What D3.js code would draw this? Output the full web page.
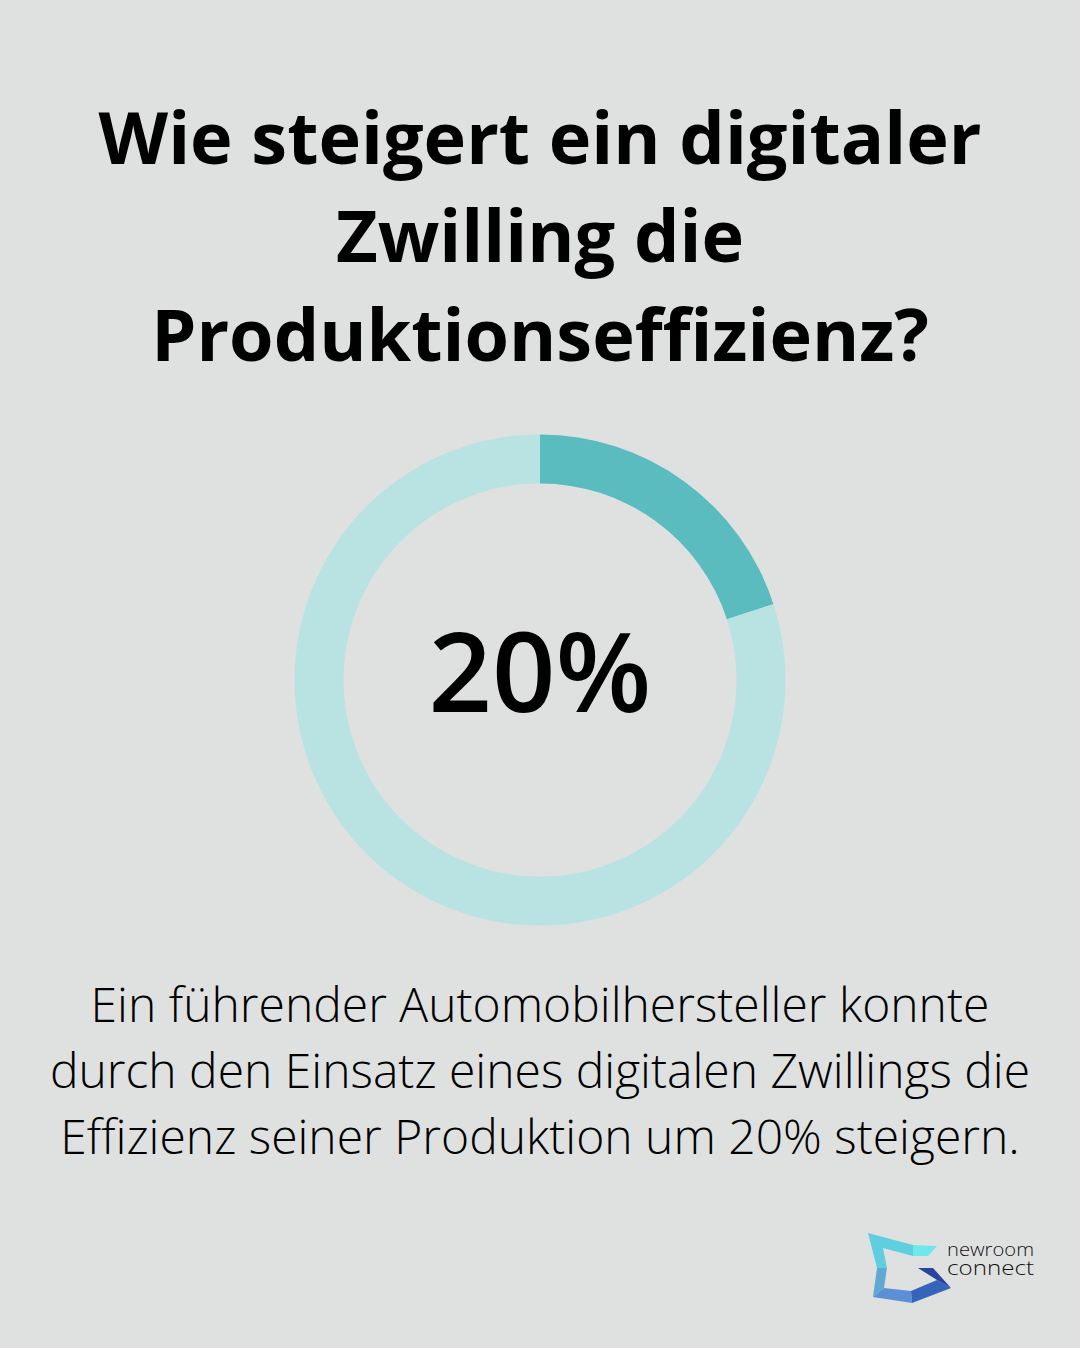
<!DOCTYPE html>
<html lang="de">
<head>
<meta charset="UTF-8">
<title>Digitaler Zwilling</title>
<script src="https://cdn.jsdelivr.net/npm/d3@7"></script>
<style>
    html, body { margin: 0; padding: 0; background: #dfe1e0; }
    svg { display: block; }
    text { font-family: "Open Sans", sans-serif; }
</style>
</head>
<body>
<script>
const titleLines = ["Wie steigert ein digitaler", "Zwilling die", "Produktionseffizienz?"];
const bodyLines = ["Ein führender Automobilhersteller konnte", "durch den Einsatz eines digitalen Zwillings die", "Effizienz seiner Produktion um 20% steigern."];
const labels = ["Effizienzsteigerung", "Rest"];
const values = [20, 80];
const centerLabel = "20%";
const brandLines = ["newroom", "connect"];

const w = 1080, h = 1348;
const svg = d3.select("body").append("svg").attr("width", w).attr("height", h);

svg.selectAll(".title").data(titleLines).enter().append("text")
    .attr("class", "title")
    .attr("x", w / 2)
    .attr("y", (d, i) => 163.5 + i * 98.5)
    .attr("text-anchor", "middle")
    .attr("font-size", 72)
    .attr("font-weight", 700)
    .attr("fill", "#000")
    .text(d => d);

const color = d3.scaleOrdinal().domain(labels).range(["#5bbcc0", "#b9e2e3"]);
const pie = d3.pie().sort(null).value(d => d);
const arc = d3.arc().innerRadius(196.5).outerRadius(245.5);

svg.append("g").attr("transform", "translate(540,680)")
    .selectAll("path").data(pie(values)).enter().append("path")
    .attr("d", arc)
    .attr("fill", (d, i) => color(labels[i]));

svg.append("text")
    .attr("x", w / 2).attr("y", 712)
    .attr("text-anchor", "middle")
    .attr("font-size", 111)
    .attr("font-weight", 600)
    .attr("fill", "#000")
    .text(centerLabel);

svg.selectAll(".body").data(bodyLines).enter().append("text")
    .attr("class", "body")
    .attr("x", w / 2)
    .attr("y", (d, i) => 1022 + i * 66)
    .attr("text-anchor", "middle")
    .attr("font-size", 48)
    .attr("font-weight", 300)
    .attr("fill", "#000")
    .text(d => d);

// logo pieces
const logoPieces = [
    ["M868,1233 L913,1245 L913,1256 L883,1248 L887,1268 L877,1268 Z", "#5fcfe0"],
    ["M913,1245 L937,1246 L928,1256 L913,1256 Z", "#70e8ea"],
    ["M877,1268 L887,1268 L884,1288 L873,1297 Z", "#62a9d2"],
    ["M873,1297 L884,1288 L911,1291 L912,1303 Z", "#5c90d6"],
    ["M911,1291 L937,1280 L951,1288 L912,1303 Z", "#3565ba"],
    ["M918,1268 L933,1268 L951,1288 L937,1280 Z", "#2a439f"]
];
svg.append("g").selectAll("path").data(logoPieces).enter().append("path")
    .attr("d", d => d[0])
    .attr("fill", d => d[1]);

svg.selectAll(".brand").data(brandLines).enter().append("text")
    .attr("class", "brand")
    .attr("x", 947)
    .attr("y", (d, i) => 1256 + i * 18.5)
    .attr("font-size", (d, i) => i ? 21 : 19)
    .attr("font-weight", 300)
    .attr("textLength", 87)
    .attr("lengthAdjust", "spacingAndGlyphs")
    .attr("fill", "#111")
    .text(d => d);
</script>
</body>
</html>
